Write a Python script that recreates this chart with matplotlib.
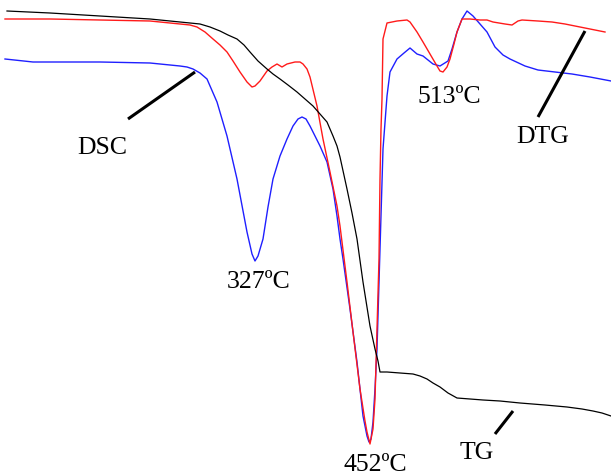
import matplotlib
matplotlib.use("Agg")
import matplotlib.pyplot as plt

# Curves traced in image coordinates (x to the right, y downward)
dsc_x = [5, 33, 100, 150, 180, 187, 193, 200, 207, 217, 227, 237, 247, 252, 255, 258, 263, 268, 273, 280, 287,
         293, 298, 302, 306, 310, 315, 320, 327, 333, 337, 340, 343, 350, 357, 363, 367, 369, 371, 373,
         375, 377, 380, 383, 387, 390, 397, 404, 410, 417, 423, 433, 440, 448, 452, 457, 462, 467, 473,
         480, 487, 495, 503, 510, 525, 538, 555, 572, 590, 611]
dsc_y = [60, 63, 63, 64, 67, 68, 70, 74, 80, 103, 137, 180, 233, 255, 262, 257, 240, 208, 180, 157, 140,
         127, 120, 118, 120, 127, 137, 147, 163, 190, 217, 240, 260, 310, 363, 417, 437, 443, 440, 423,
         390, 350, 250, 150, 97, 73, 60, 54, 49, 55, 57, 65, 67, 62, 50, 33, 20, 12, 17,
         25, 33, 48, 56, 60, 67, 71, 73, 75, 78, 82]

dtg_x = [5, 50, 100, 150, 180, 190, 197, 205, 213, 220, 227, 233, 240, 247, 252, 255, 260, 267, 272, 277,
         282, 287, 295, 300, 303, 307, 310, 317, 323, 330, 337, 340, 347, 353, 360, 365, 367, 370, 373,
         375, 377, 379, 380, 381, 382, 383, 387, 397, 407, 410, 417, 423, 430, 437, 440, 443, 447, 450,
         454, 457, 462, 470, 480, 487, 493, 505, 512, 518, 522, 538, 552, 565, 585, 605]
dtg_y = [20, 20, 21, 22, 25, 26, 28, 33, 40, 46, 53, 62, 73, 83, 88, 87, 82, 72, 68, 65,
         68, 65, 63, 63, 65, 70, 78, 107, 140, 173, 207, 227, 283, 333, 390, 422, 433, 445, 430,
         400, 330, 260, 180, 130, 100, 40, 24, 22, 21, 23, 33, 43, 55, 67, 72, 73, 68, 60,
         45, 33, 20, 20, 21, 21, 23, 25, 26, 22, 21, 22, 23, 25, 29, 33]

tg_x = [7, 50, 100, 150, 180, 200, 210, 220, 228, 237, 244, 250, 258, 267, 273, 280, 288, 297, 305, 313,
        320, 327, 333, 337, 340, 347, 352, 357, 363, 370, 375, 378, 380, 387, 400, 413, 420, 427, 433,
        440, 448, 457, 470, 483, 500, 520, 545, 567, 582, 593, 602, 611]
tg_y = [12, 14, 17, 20, 23, 25, 28, 32, 36, 40, 46, 53, 62, 70, 75, 80, 86, 93, 100, 107,
        115, 123, 137, 147, 158, 190, 214, 240, 283, 327, 350, 362, 373, 373, 374, 375, 377, 380, 384,
        388, 394, 399, 400, 401, 402, 404, 406, 408, 410, 412, 414, 417]

# Labels: text, text position, leader line (start, end) or None
labels = ["DSC", "DTG", "TG", "327ºC", "452ºC", "513ºC"]
label_pos = [(102, 148), (543, 137), (477, 453), (259, 282), (375, 465), (449, 97)]
leaders = [((128, 120), (195, 73)), ((538, 118), (585, 32)), ((495, 435), (513, 412)), None, None, None]

fig = plt.figure(figsize=(6.11, 4.77), dpi=100)
ax = fig.add_axes([0, 0, 1, 1])
ax.set_xlim(0, 611)
ax.set_ylim(477, 0)
ax.axis("off")

ax.plot(dsc_x, dsc_y, color="#1f1fff", lw=1.0, solid_joinstyle="round")
ax.plot(dtg_x, dtg_y, color="#ff1a1a", lw=1.0, solid_joinstyle="round")
ax.plot(tg_x, tg_y, color="black", lw=0.9, solid_joinstyle="round")

for txt, (tx, ty), ld in zip(labels, label_pos, leaders):
    ax.text(tx, ty, txt, ha="center", va="center", fontsize=18.5,
            family=["Liberation Serif", "DejaVu Serif"], color="black")
    if ld is not None:
        (x0, y0), (x1, y1) = ld
        ax.plot([x0, x1], [y0, y1], color="black", lw=2.2, solid_capstyle="butt")

fig.savefig("out.png", dpi=100)
